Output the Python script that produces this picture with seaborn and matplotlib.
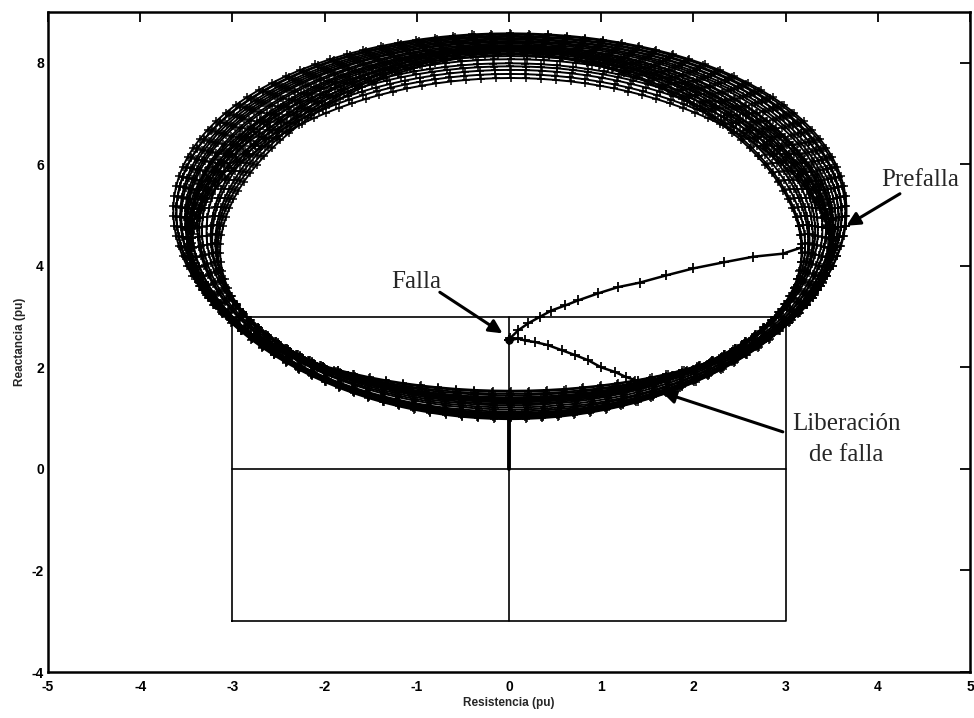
import numpy as np
import pandas as pd
import matplotlib
matplotlib.use("Agg")
import matplotlib.pyplot as plt
import seaborn as sns

# Power-swing loops after fault clearing: centre, semi-axes and egg factor of each loop (pu)
loop_cx = [0.01, 0.02, 0.00, 0.02, 0.01, 0.03, 0.02, 0.01, 0.02, 0.00, 0.03, 0.02, 0.01, 0.02,
           0.03, 0.02, 0.03, 0.02, 0.01, 0.02,
           0.01, 0.02, 0.00, 0.01, 0.02, 0.01, 0.02]
loop_cy = [4.78, 4.78, 4.77, 4.77, 4.76, 4.76, 4.75, 4.75, 4.74, 4.74, 4.75, 4.76, 4.77, 4.78,
           4.79, 4.80, 4.80, 4.80, 4.79, 4.78,
           4.73, 4.72, 4.70, 4.69, 4.67, 4.65, 4.62]
loop_rx = [3.64, 3.62, 3.60, 3.58, 3.56, 3.54, 3.52, 3.50, 3.47, 3.44, 3.41, 3.38, 3.34, 3.30,
           3.26, 3.23, 3.20, 3.17, 3.14, 3.12,
           3.51, 3.50, 3.49, 3.48, 3.47, 3.46, 3.45]
loop_ry = [3.80, 3.78, 3.76, 3.74, 3.72, 3.70, 3.68, 3.66, 3.64, 3.61, 3.58, 3.55, 3.52, 3.50,
           3.48, 3.46, 3.44, 3.42, 3.40, 3.38,
           3.40, 3.35, 3.29, 3.24, 3.19, 3.13, 3.08]
loop_k = [-0.08, -0.07, -0.07, -0.06, -0.05, -0.05, -0.04, -0.03, -0.02, -0.01, 0.00, 0.01, 0.02, 0.03,
          0.06, 0.08, 0.10, 0.12, 0.14, 0.15,
          0.01, 0.03, 0.05, 0.06, 0.08, 0.09, 0.10]

# Pre-fault operating point moving to the fault point
fault_x = [3.17, 2.97, 2.65, 2.33, 2.00, 1.70, 1.42, 1.18, 0.97, 0.75, 0.61, 0.46, 0.34, 0.21, 0.10, 0.01, 0.00]
fault_y = [4.36, 4.24, 4.18, 4.07, 3.95, 3.81, 3.67, 3.58, 3.46, 3.32, 3.22, 3.12, 3.00, 2.87, 2.73, 2.57, 2.53]

# Trajectory right after the fault is cleared
clear_x = [0.00, 0.10, 0.17, 0.28, 0.42, 0.57, 0.72, 0.86, 1.00, 1.15, 1.27, 1.40, 1.52]
clear_y = [2.53, 2.57, 2.53, 2.50, 2.44, 2.34, 2.24, 2.14, 2.00, 1.91, 1.81, 1.73, 1.66]

# Relay characteristic (quadrilateral zone) and its axes
zone_x = [-3, 3, 3, -3, -3]
zone_y = [-3, -3, 3, 3, -3]
stem_x = [0, 0]
stem_y = [0.0, 1.0]

xticks = [-5, -4, -3, -2, -1, 0, 1, 2, 3, 4, 5]
yticks = [-4, -2, 0, 2, 4, 6, 8]

sns.set_theme(style="white")
plt.rcParams["font.family"] = ["Liberation Sans", "DejaVu Sans"]
plt.rcParams["axes.unicode_minus"] = False

fig = plt.figure(figsize=(9.74, 7.18), dpi=100)
ax = fig.add_axes([48 / 974, 1 - 672 / 718, (970 - 48) / 974, (672 - 12) / 718])

# Build the loop table
t = np.linspace(0, 2 * np.pi, 121)
frames = []
for i, (cx, cy, rx, ry, k) in enumerate(zip(loop_cx, loop_cy, loop_rx, loop_ry, loop_k)):
    frames.append(pd.DataFrame({
        "loop": i,
        "R": cx + rx * np.cos(t) * (1 - k * np.sin(t)),
        "X": cy + ry * np.sin(t),
    }))
loops = pd.concat(frames, ignore_index=True)

sns.lineplot(data=loops, x="R", y="X", units="loop", estimator=None, sort=False,
             color="black", lw=1.4, marker="+", markersize=5.5, mec="black", mew=1.1,
             legend=False, ax=ax)

path_fault = pd.DataFrame({"R": fault_x, "X": fault_y})
path_clear = pd.DataFrame({"R": clear_x, "X": clear_y})
for path in (path_fault, path_clear):
    sns.lineplot(data=path, x="R", y="X", sort=False, estimator=None, color="black",
                 lw=1.8, marker="+", markersize=7, mec="black", mew=1.3, ax=ax)
ax.plot([0.0], [2.53], "o", color="black", ms=5)

# Relay zone
ax.plot(zone_x, zone_y, color="black", lw=1.2)
ax.plot([-3, 3], [0, 0], color="black", lw=1.2)
ax.plot([0, 0], [-3, 3], color="black", lw=1.2)
ax.plot(stem_x, stem_y, color="black", lw=2.8)

# Annotations
serif = ["Liberation Serif", "DejaVu Serif"]
arrow = dict(arrowstyle="-|>", color="black", lw=2.2, mutation_scale=20, shrinkA=0, shrinkB=0)
ax.text(-1.01, 3.69, "Falla", ha="center", va="center", fontsize=18, family=serif)
ax.annotate("", xy=(-0.07, 2.67), xytext=(-0.75, 3.48), arrowprops=arrow)
ax.text(4.46, 5.70, "Prefalla", ha="center", va="center", fontsize=18, family=serif)
ax.annotate("", xy=(3.66, 4.79), xytext=(4.24, 5.42), arrowprops=arrow)
ax.text(3.66, 0.88, "Liberación", ha="center", va="center", fontsize=18, family=serif)
ax.text(3.66, 0.27, "de falla", ha="center", va="center", fontsize=18, family=serif)
ax.annotate("", xy=(1.66, 1.51), xytext=(2.97, 0.73), arrowprops=arrow)

ax.set_xlim(-5, 5)
ax.set_ylim(-4, 9)
ax.set_xticks(xticks)
ax.set_yticks(yticks)
ax.set_xticklabels([str(v) for v in xticks])
ax.set_yticklabels([str(v) for v in yticks])
ax.tick_params(direction="in", length=7, width=1.3, top=True, right=True,
               labelsize=10, colors="black")
ax.tick_params(axis="x", pad=6)
ax.tick_params(axis="y", pad=3)
plt.setp(ax.get_xticklabels() + ax.get_yticklabels(), fontweight="bold")
for s in ax.spines.values():
    s.set_visible(True)
    s.set_color("black")
    s.set_linewidth(1.8)

ax.set_xlabel("Resistencia (pu)", fontsize=8.5, fontweight="bold", labelpad=2)
ax.set_ylabel("Reactancia (pu)", fontsize=8.5, fontweight="bold", labelpad=4)

fig.savefig("out.png", dpi=100, facecolor="white")
